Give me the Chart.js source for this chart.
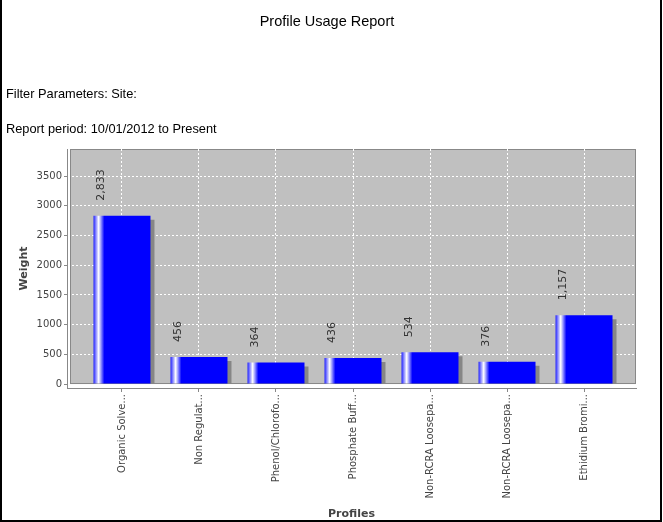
<!DOCTYPE html>
<html lang="en">
<head>
    <meta charset="UTF-8">
    <title>Profile Usage Report</title>
    <style>
        body {
            margin: 0;
            background: #fff;
            font-family: "Liberation Sans", Arial, sans-serif;
            color: #000;
        }

        #page {
            position: relative;
            width: 663px;
            height: 522px;
            overflow: hidden;
        }

        /* black frame round the report (no top edge) */
        #frame {
            position: absolute;
            left: 0;
            top: 0;
            width: 662px;
            height: 522px;
            box-sizing: border-box;
            border-left: 2px solid #000;
            border-right: 2px solid #000;
            border-bottom: 2px solid #000;
            pointer-events: none;
        }

        canvas {
            position: absolute;
            left: 0;
            top: 0;
        }

        .txt {
            position: absolute;
            line-height: 1;
            white-space: nowrap;
        }

        #title { left: 0; width: 654px; text-align: center; top: 14px; font-size: 14.5px; }
        #filter { left: 6px; top: 88px; font-size: 12.8px; }
        #period { left: 6px; top: 123px; font-size: 12.8px; }
    </style>
</head>
<body>
    <div id="page">
        <canvas id="usageChart" width="663" height="522"></canvas>
        <div class="txt" id="title">Profile Usage Report</div>
        <div class="txt" id="filter">Filter Parameters: Site:</div>
        <div class="txt" id="period">Report period: 10/01/2012 to Present</div>
        <div id="frame"></div>
    </div>

    <script src="https://cdn.jsdelivr.net/npm/chart.js"></script>
    <script>
        // Data
        const categories = ['Organic Solve...', 'Non Regulat...', 'Phenol/Chlorofo...', 'Phosphate Buff...',
                            'Non-RCRA Loosepa...', 'Non-RCRA Loosepa...', 'Ethidium Bromi...'];
        const weights = [2833, 456, 364, 436, 534, 376, 1157];
        const yTicks = [0, 500, 1000, 1500, 2000, 2500, 3000, 3500];

        const BAR_PCT = 0.74;
        const AXIS_GREY = '#888888';
        const TEXT_GREY = '#444444';

        // grey plot background with outline (sits a few px off the axes like JFreeChart)
        const plotBox = {
            id: 'plotBox',
            beforeDraw(chart) {
                const a = chart.chartArea;
                const c = chart.ctx;
                const bottom = chart.scales.y.getPixelForValue(0);
                c.save();
                c.fillStyle = '#c0c0c0';
                c.fillRect(a.left + 3, a.top, a.right - a.left - 3, bottom - a.top);
                c.strokeStyle = AXIS_GREY;
                c.lineWidth = 1;
                c.strokeRect(a.left + 3.5, a.top + 0.5, a.right - a.left - 4, bottom - a.top - 1);
                c.restore();
            }
        };

        // drop shadow under bars + rotated value labels
        const barDeco = {
            id: 'barDeco',
            beforeDatasetsDraw(chart) {
                const c = chart.ctx;
                c.save();
                c.shadowColor = '#868686';
                c.shadowOffsetX = 4;
                c.shadowOffsetY = 4;
                c.shadowBlur = 0;
            },
            afterDatasetsDraw(chart) {
                const c = chart.ctx;
                c.restore();
                const meta = chart.getDatasetMeta(0);
                c.save();
                c.fillStyle = '#333333';
                c.font = '11px "DejaVu Sans"';
                c.textAlign = 'left';
                c.textBaseline = 'middle';
                meta.data.forEach((bar, i) => {
                    c.save();
                    c.translate(bar.x - bar.width * 0.37, bar.y - 15);
                    c.rotate(-Math.PI / 2);
                    c.fillText(weights[i].toLocaleString('en-US'), 0, 0);
                    c.restore();
                });
                c.restore();
            }
        };

        // JFreeChart style gradient: blue -> white -> blue on the left fifth of the bar
        function barGradient(ctx) {
            const chart = ctx.chart;
            const xs = chart.scales.x;
            if (!xs || ctx.type !== 'data' || !ctx.parsed) return '#0000ff';
            const step = xs.getPixelForValue(1) - xs.getPixelForValue(0);
            const w = step * BAR_PCT;
            const cx = xs.getPixelForValue(ctx.parsed.x);
            if (!Number.isFinite(cx) || !Number.isFinite(w) || w <= 0) return '#0000ff';
            const g = chart.ctx.createLinearGradient(cx - w / 2, 0, cx + w / 2, 0);
            g.addColorStop(0, '#2020ff');
            g.addColorStop(0.09, '#ffffff');
            g.addColorStop(0.19, '#0000ff');
            g.addColorStop(1, '#0000ff');
            return g;
        }

        const points = weights.map((v, i) => ({ x: i, y: v }));

        new Chart(document.getElementById('usageChart'), {
            type: 'bar',
            data: {
                datasets: [{
                    label: 'Weight',
                    data: points,
                    backgroundColor: barGradient,
                    borderWidth: 0,
                    barPercentage: BAR_PCT,
                    categoryPercentage: 1,
                    clip: { left: 0, top: 0, right: 0, bottom: -4 }
                }]
            },
            options: {
                responsive: false,
                animation: false,
                layout: { padding: { top: 149, right: 27, left: 0, bottom: 0 } },
                plugins: {
                    legend: { display: false },
                    tooltip: { enabled: false }
                },
                scales: {
                    x: {
                        type: 'linear',
                        min: -0.714,
                        max: 6.675,
                        offset: false,
                        afterBuildTicks: (s) => { s.ticks = categories.map((_, i) => ({ value: i })); },
                        afterFit: (s) => { s.height = 134; },
                        grid: {
                            offset: false,
                            color: '#ffffff',
                            lineWidth: 1,
                            tickColor: AXIS_GREY,
                            tickLength: 4
                        },
                        border: { display: true, color: AXIS_GREY, width: 1, dash: [2, 2] },
                        ticks: {
                            autoSkip: false,
                            maxRotation: 90,
                            minRotation: 90,
                            padding: 2,
                            color: TEXT_GREY,
                            font: { family: 'DejaVu Sans', size: 10 },
                            callback: (v) => categories[v]
                        },
                        title: {
                            display: true,
                            text: 'Profiles',
                            color: TEXT_GREY,
                            font: { family: 'DejaVu Sans', size: 11, weight: 'bold' },
                            padding: { top: 0, bottom: 1 }
                        }
                    },
                    y: {
                        min: -67,
                        max: 3956,
                        afterBuildTicks: (s) => { s.ticks = yTicks.map(v => ({ value: v })); },
                        afterFit: (s) => { s.width = 67; },
                        grid: {
                            color: (c) => (c.tick && c.tick.value === 0) ? 'rgba(0,0,0,0)' : '#ffffff',
                            lineWidth: 1,
                            tickColor: AXIS_GREY,
                            tickLength: 3
                        },
                        border: { display: true, color: AXIS_GREY, width: 1, dash: [2, 2] },
                        ticks: {
                            padding: 2,
                            color: TEXT_GREY,
                            font: { family: 'DejaVu Sans', size: 10 },
                            callback: (v) => String(v)
                        },
                        title: {
                            display: true,
                            text: 'Weight',
                            color: TEXT_GREY,
                            font: { family: 'DejaVu Sans', size: 11, weight: 'bold' },
                            padding: { top: 18, bottom: 0 }
                        }
                    }
                }
            },
            plugins: [plotBox, barDeco]
        });
    </script>
</body>
</html>
